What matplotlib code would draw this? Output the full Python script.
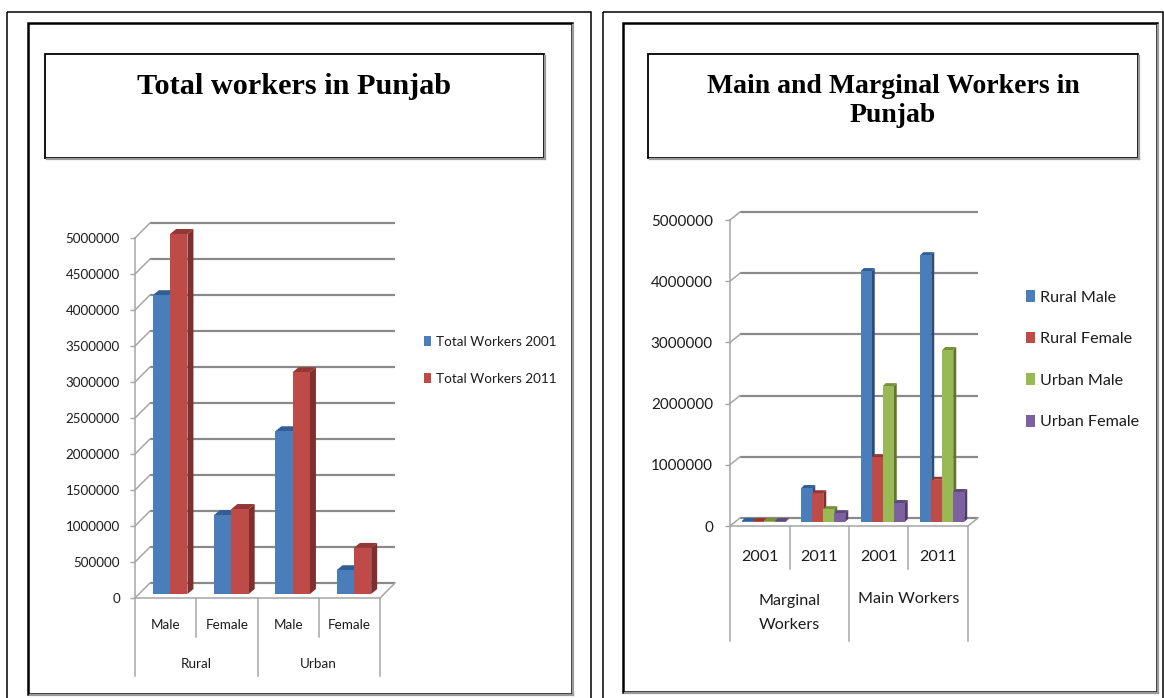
import matplotlib
matplotlib.use('Agg')
import matplotlib.pyplot as plt
from matplotlib.patches import Rectangle
import numpy as np

# Left chart
left_title = "Total workers in Punjab"
left_cats = ["Male", "Female", "Male", "Female"]
left_groups = ["Rural", "Urban"]
left_ticks = [0, 500000, 1000000, 1500000, 2000000, 2500000, 3000000, 3500000, 4000000, 4500000, 5000000]
total_2001 = [4150000, 1097000, 2260000, 330000]
total_2011 = [5000000, 1180000, 3080000, 640000]

# Right chart
right_title = "Main and Marginal Workers in\nPunjab"
right_cats = ["2001", "2011", "2001", "2011"]
right_groups = ["Marginal\nWorkers", "Main Workers"]
right_ticks = [0, 1000000, 2000000, 3000000, 4000000, 5000000]
rural_male = [15000, 555000, 4100000, 4360000]
rural_female = [15000, 470000, 1060000, 690000]
urban_male = [15000, 210000, 2220000, 2810000]
urban_female = [15000, 145000, 310000, 490000]

BLUE = ('#4a7ebb', '#2c4d75', '#2f5f94')
RED = ('#be4b48', '#7f2f2d', '#943634')
GREEN = ('#98b954', '#5f7530', '#76923c')
PURPLE = ('#7d60a0', '#4f3a6b', '#5f497a')

FONT = ['Lato', 'DejaVu Sans']
GRID = '#8a8a8a'
AXIS = '#a6a6a6'
TEXT = '#1c1c1c'

W, H = 1164, 698
fig = plt.figure(figsize=(W / 100, H / 100), dpi=100)

# page layer in pixel coordinates, for the frames and the title boxes
bg = fig.add_axes([0, 0, 1, 1])
bg.set_xlim(0, W)
bg.set_ylim(H, 0)
bg.axis('off')


def frame(x0, y0, x1, y1, lw=1.5, shadow=False):
    if shadow:
        bg.plot([x1 + 1, x1 + 1], [y0 + 2, y1 + 1], color='#9a9a9a', lw=1.6)
        bg.plot([x0 + 2, x1 + 1], [y1 + 1, y1 + 1], color='#9a9a9a', lw=1.6)
    bg.add_patch(Rectangle((x0, y0), x1 - x0, y1 - y0, fill=False, ec='black', lw=lw))


frame(7, 12, 591, 712, lw=1.1)
frame(28, 23, 572, 694, lw=1.8, shadow=True)
frame(603, 12, 1163, 712, lw=1.1)
frame(623, 23, 1157, 692, lw=1.8, shadow=True)
frame(45, 54, 544, 158, lw=1.3, shadow=True)
frame(648, 54, 1138, 158, lw=1.3, shadow=True)

bg.text(294, 87, left_title, family='Liberation Serif', weight='bold', fontsize=21.8,
        ha='center', va='center', color='black')
bg.text(893, 101, right_title, family='Liberation Serif', weight='bold', fontsize=20,
        ha='center', va='center', color='black', linespacing=1.25)


def bar_chart(box, ymax, ticks, cats, groups, series, names, colors, bar_w, front, depth, wall,
              label_y, group_y, sep_y, fs, tick_fs, tick_pad, legend_at, legend_gap, group_spacing=1.2):
    x0, y0, x1, y1 = box
    ax = fig.add_axes([x0 / W, 1 - y1 / H, (x1 - x0) / W, (y1 - y0) / H])
    ax.patch.set_alpha(0)
    ax.set_xlim(0, len(cats))
    ax.set_ylim(0, ymax)
    px = (x1 - x0) / len(cats)
    py = (y1 - y0) / ymax

    # back wall and floor
    wx, wy = wall[0] / px, wall[1] / py
    for t in ticks:
        ax.plot([wx, len(cats) + wx], [t + wy, t + wy], color=GRID, lw=1.6, clip_on=False, zorder=1,
                solid_capstyle='butt')
        ax.plot([0, wx], [t, t + wy], color=AXIS, lw=1.1, clip_on=False, zorder=1)
    ax.plot([len(cats), len(cats) + wx], [0, wy], color=AXIS, lw=1.1, clip_on=False, zorder=1)

    # bars: front face from ax.bar, side and top as polygons behind it
    fx, fy = front[0] / px, front[1] / py
    dx, dy = depth[0] / px, depth[1] / py
    n = len(series)
    w = bar_w / px
    handles = []
    for j, vals in enumerate(series):
        xs = np.arange(len(cats)) + 0.5 + fx + (j - (n - 1) / 2) * w
        c_front, c_side, c_top = colors[j]
        z = 3 + j
        bars = ax.bar(xs, vals, width=w, bottom=fy, color=c_front, zorder=z, clip_on=False,
                      label=names[j], linewidth=0)
        handles.append(bars)
        for x, v in zip(xs, vals):
            l, r = x - w / 2, x + w / 2
            t = fy + v
            ax.fill([r, r + dx, r + dx, r], [fy, fy + dy, t + dy, t], color=c_side, lw=0,
                    zorder=z - 0.5, clip_on=False)
            ax.fill([l, l + dx, r + dx, r], [t, t + dy, t + dy, t], color=c_top, lw=0,
                    zorder=z - 0.5, clip_on=False)

    for s in ['top', 'right']:
        ax.spines[s].set_visible(False)
    for s in ['left', 'bottom']:
        ax.spines[s].set_color(AXIS)
        ax.spines[s].set_linewidth(1.1)

    ax.set_yticks(ticks)
    ax.set_yticklabels([str(t) for t in ticks], family=FONT, fontsize=tick_fs, color=TEXT)
    ax.tick_params(axis='y', length=3.5, width=1, color=AXIS, pad=tick_pad)

    # two level category axis
    ax.set_xticks(np.arange(len(cats)) + 0.5)
    ax.set_xticklabels(cats, family=FONT, fontsize=fs, color=TEXT)
    ax.tick_params(axis='x', length=0, pad=label_y)
    tr = ax.get_xaxis_transform()
    h = y1 - y0
    for i in range(len(cats) + 1):
        low = sep_y[1] if i % 2 == 0 else sep_y[0]
        ax.plot([i, i], [0, -low / h], color=AXIS, lw=1.1, transform=tr, clip_on=False)
    for i, g in enumerate(groups):
        ax.text(2 * i + 1, -group_y[i] / h, g, family=FONT, fontsize=fs, color=TEXT, ha='center',
                va='center', transform=tr, linespacing=group_spacing)

    ax.legend(handles=handles, loc='upper left', bbox_to_anchor=legend_at,
              bbox_transform=bg.transData, frameon=False, prop={'family': FONT, 'size': fs},
              labelspacing=legend_gap, handlelength=0.53, handleheight=0.75, handletextpad=0.37,
              borderpad=0, borderaxespad=0, labelcolor=TEXT)
    return ax


bar_chart((135, 238, 380, 598), 5000000, left_ticks, left_cats, left_groups,
          [total_2001, total_2011], ["Total Workers 2001", "Total Workers 2011"], [BLUE, RED],
          bar_w=17.3, front=(4.5, 4), depth=(6, 5), wall=(15, 15),
          label_y=14.8, group_y=[66, 66], sep_y=(39, 78), fs=9.7, tick_fs=9.6, tick_pad=7.3,
          legend_at=(424, 336), legend_gap=1.85)

bar_chart((730, 220, 968, 526), 5000000, right_ticks, right_cats, right_groups,
          [rural_male, rural_female, urban_male, urban_female],
          ["Rural Male", "Rural Female", "Urban Male", "Urban Female"],
          [BLUE, RED, GREEN, PURPLE],
          bar_w=11, front=(4, 4), depth=(3, 3), wall=(10, 8),
          label_y=17, group_y=[87, 73], sep_y=(43, 115), fs=11.6, tick_fs=10.9, tick_pad=8.8,
          legend_at=(1026, 290), legend_gap=1.68, group_spacing=1.9)

fig.savefig('out.png', dpi=100, facecolor='white')
